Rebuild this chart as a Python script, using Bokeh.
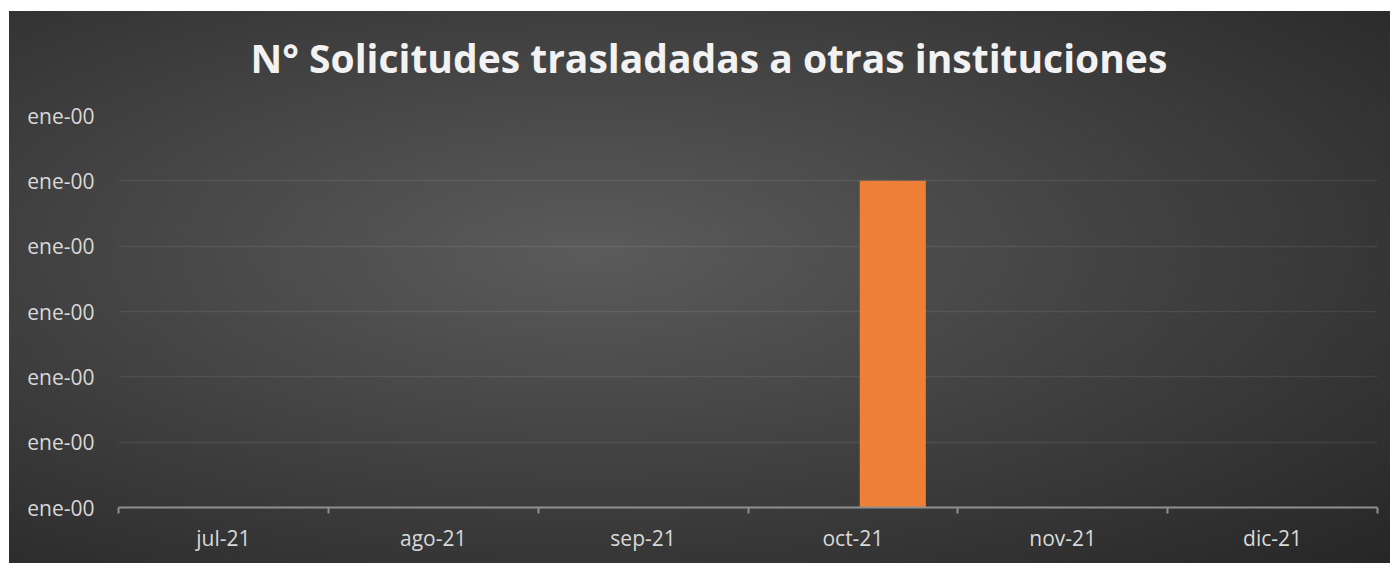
from bokeh.plotting import figure
from bokeh.models import FixedTicker, Range1d
from bokeh.embed import file_html
from bokeh.resources import INLINE

# ---- data ----
months = ["jul-21", "ago-21", "sep-21", "oct-21", "nov-21", "dic-21"]
solicitudes = [0, 0, 0, 1, 0, 0]
y_ticks = [0, 0.2, 0.4, 0.6, 0.8, 1.0, 1.2]
y_tick_labels = ["ene-00", "ene-00", "ene-00", "ene-00", "ene-00", "ene-00", "ene-00"]
title_text = "N° Solicitudes trasladadas a otras instituciones"

# ---- style constants ----
BAR_OFFSET = 0.69
BAR_WIDTH = 0.315
FONT = "Open Sans"

n = len(months)
x_centers = [i + 0.5 for i in range(n)]
x_bounds = [float(i) for i in range(n + 1)]
bar_x = [i + BAR_OFFSET for i in range(n)]

p = figure(width=1381, height=566, output_backend="svg", toolbar_location=None,
           x_range=Range1d(0, n), y_range=Range1d(y_ticks[0], y_ticks[-1]),
           min_border_left=109, min_border_right=13, min_border_top=105,
           min_border_bottom=56)
p.styles = {
    "margin": "-3px 0 0 9px",
    "background": ("linear-gradient(#ffffff, #ffffff) top left / 100% 14px no-repeat, "
                   "radial-gradient(ellipse farthest-corner at 42% 45%, #5b5b5b 0%, #262626 100%)"),
}
p.background_fill_color = None
p.border_fill_color = None
p.outline_line_color = None

p.vbar(x=bar_x, top=solicitudes, width=BAR_WIDTH, bottom=0,
       fill_color="#ee7f36", line_color=None)

# title
p.title.text = title_text
p.title.text_font = FONT
p.title.text_font_size = "39px"
p.title.text_font_style = "bold"
p.title.text_color = "#f2f2f2"
p.title.align = "left"
p.title.offset = 132
p.title.standoff = 63

# x axis
xa = p.xaxis[0]
xa.ticker = FixedTicker(ticks=x_centers, minor_ticks=x_bounds)
xa.major_label_overrides = {x: m for x, m in zip(x_centers, months)}
xa.major_tick_in = 0
xa.major_tick_out = 0
xa.minor_tick_in = 0
xa.minor_tick_out = 6
xa.minor_tick_line_color = "#8f8f8f"
xa.minor_tick_line_width = 2
xa.axis_line_color = "#8f8f8f"
xa.axis_line_width = 2
xa.major_label_text_font = FONT
xa.major_label_text_font_size = "21px"
xa.major_label_text_color = "#d9d9d9"
xa.major_label_standoff = 10

# y axis
ya = p.yaxis[0]
ya.ticker = FixedTicker(ticks=y_ticks)
ya.major_label_overrides = {t: l for t, l in zip(y_ticks, y_tick_labels)}
ya.axis_line_color = None
ya.major_tick_line_color = None
ya.minor_tick_line_color = None
ya.major_label_text_font = FONT
ya.major_label_text_font_size = "21px"
ya.major_label_text_color = "#d9d9d9"
ya.major_label_standoff = 18

p.xgrid.grid_line_color = None
p.ygrid.ticker = FixedTicker(ticks=y_ticks)
p.ygrid.grid_line_color = "white"
p.ygrid.grid_line_alpha = 0.08
p.ygrid.grid_line_width = 1.5

open("out.html", "w").write(file_html(p, INLINE))
